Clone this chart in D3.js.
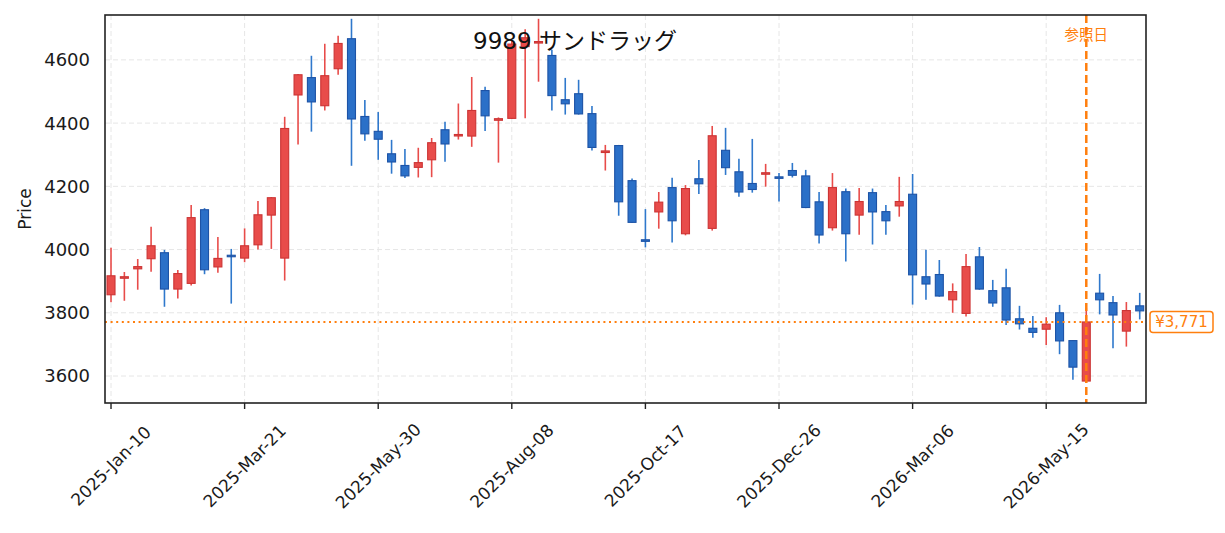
<!DOCTYPE html>
<html>
  <head>
    <meta charset="utf-8" />
    <script src="https://d3js.org/d3.v7.min.js"></script>
    <style>
        body { margin: 0; background: #fff; }
        .tick-label { font-family: "DejaVu Sans", sans-serif; font-size: 17px; fill: #1a1a1a; }
    </style>
  </head>
  <body>
    <svg id="chart" width="1225" height="533"></svg>
    <script>
        // weekly candles (Friday dates)
        var dates = [
            "2025-01-10","2025-01-17","2025-01-24","2025-01-31","2025-02-07","2025-02-14","2025-02-21","2025-02-28",
            "2025-03-07","2025-03-14","2025-03-21","2025-03-28","2025-04-04","2025-04-11","2025-04-18","2025-04-25",
            "2025-05-02","2025-05-09","2025-05-16","2025-05-23","2025-05-30","2025-06-06","2025-06-13","2025-06-20",
            "2025-06-27","2025-07-04","2025-07-11","2025-07-18","2025-07-25","2025-08-01","2025-08-08","2025-08-15",
            "2025-08-22","2025-08-29","2025-09-05","2025-09-12","2025-09-19","2025-09-26","2025-10-03","2025-10-10",
            "2025-10-17","2025-10-24","2025-10-31","2025-11-07","2025-11-14","2025-11-21","2025-11-28","2025-12-05",
            "2025-12-12","2025-12-19","2025-12-26","2026-01-02","2026-01-09","2026-01-16","2026-01-23","2026-01-30",
            "2026-02-06","2026-02-13","2026-02-20","2026-02-27","2026-03-06","2026-03-13","2026-03-20","2026-03-27",
            "2026-04-03","2026-04-10","2026-04-17","2026-04-24","2026-05-01","2026-05-08","2026-05-15","2026-05-22",
            "2026-05-29","2026-06-05","2026-06-12","2026-06-19","2026-06-26","2026-07-03"
        ];

        var open = [3857,3910,3939,3971,3990,3875,3893,4126,3945,3982,
                    3973,4015,4109,3973,4489,4544,4455,4572,4667,4421,
                    4374,4303,4266,4260,4284,4379,4360,4359,4503,4409,
                    4415,4642,4654,4614,4474,4493,4430,4307,4329,4218,
                    4031,4119,4196,4050,4224,4067,4314,4246,4209,4239,
                    4230,4250,4233,4151,4069,4183,4109,4180,4120,4138,
                    4175,3914,3921,3841,3798,3977,3870,3879,3781,3751,
                    3748,3800,3712,3584,3862,3832,3742,3822];
        var high = [4006,3929,3970,4072,3999,3935,4141,4131,4040,4002,
                    4067,4154,4166,4420,4555,4613,4651,4676,4730,4473,
                    4435,4347,4318,4322,4353,4404,4462,4546,4515,4418,
                    4662,4697,4730,4632,4543,4537,4454,4331,4331,4225,
                    4128,4182,4227,4204,4283,4391,4385,4287,4350,4271,
                    4242,4274,4252,4182,4242,4193,4195,4193,4141,4230,
                    4239,3999,3967,3893,3986,4008,3904,3939,3822,3790,
                    3786,3825,3713,3815,3923,3853,3834,3863];
        var low  = [3833,3838,3873,3930,3819,3845,3886,3922,3927,3829,
                    3960,4000,4002,3902,4332,4373,4440,4553,4265,4344,
                    4284,4240,4226,4228,4229,4278,4348,4325,4375,4275,
                    4413,4415,4531,4440,4427,4427,4313,4250,4107,4085,
                    4007,4066,4022,4045,4176,4060,4236,4167,4180,4199,
                    4152,4228,4131,4019,4060,3962,4047,4016,4047,4104,
                    3826,3841,3851,3800,3788,3873,3819,3761,3747,3721,
                    3698,3669,3588,3578,3795,3688,3693,3779];
        var close = [3917,3914,3946,4012,3875,3924,4101,3936,3972,3978,
                     4012,4110,4164,4383,4553,4467,4550,4652,4413,4366,
                     4349,4277,4233,4275,4338,4334,4364,4440,4423,4414,
                     4650,4670,4658,4487,4461,4429,4323,4312,4151,4086,
                     4026,4150,4091,4193,4208,4360,4259,4182,4190,4243,
                     4226,4235,4133,4046,4196,4050,4152,4119,4091,4152,
                     3920,3891,3853,3867,3946,3875,3831,3777,3765,3738,
                     3764,3711,3628,3771,3841,3793,3807,3806];

        var xTickIdx = [0,10,20,30,40,50,60,70];
        var xTickLabels = ["2025-Jan-10","2025-Mar-21","2025-May-30","2025-Aug-08",
                           "2025-Oct-17","2025-Dec-26","2026-Mar-06","2026-May-15"];
        var yTicks = [3600,3800,4000,4200,4400,4600];

        var refIdx = 73;
        var refPrice = 3771;
        var title = "9989 サンドラッグ";

        var candles = dates.map(function(d, i) {
            return { date: d, i: i, o: open[i], h: high[i], l: low[i], c: close[i] };
        });

        var pLeft = 105, pRight = 1146, pTop = 15, pBottom = 403;
        var svg = d3.select("#chart");

        var x = d3.scaleLinear().domain([-0.45, 77.47]).range([pLeft, pRight]);
        var y = d3.scaleLinear().domain([3514.6, 4742]).range([pBottom, pTop]);

        var upFill = "#e84c4a", upEdge = "#cc3434";
        var dnFill = "#2b70c8", dnEdge = "#1d53a6";
        var orange = "#ff7f0e";

        // grid
        svg.append("g").selectAll("line").data(yTicks).enter().append("line")
            .attr("x1", pLeft).attr("x2", pRight)
            .attr("y1", function(d){ return y(d); }).attr("y2", function(d){ return y(d); })
            .attr("stroke", "#e6e6e6").attr("stroke-width", 1).attr("stroke-dasharray", "5,3");
        svg.append("g").selectAll("line").data(xTickIdx).enter().append("line")
            .attr("x1", function(d){ return x(d); }).attr("x2", function(d){ return x(d); })
            .attr("y1", pTop).attr("y2", pBottom)
            .attr("stroke", "#e6e6e6").attr("stroke-width", 1).attr("stroke-dasharray", "5,3");

        // candles
        var g = svg.append("g");
        var bw = 8;

        g.selectAll(".wick").data(candles).enter().append("line")
            .attr("class", "wick")
            .attr("x1", function(d){ return x(d.i); }).attr("x2", function(d){ return x(d.i); })
            .attr("y1", function(d){ return y(d.h); }).attr("y2", function(d){ return y(d.l); })
            .attr("stroke", function(d){ return d.c >= d.o ? upFill : "#2f78cc"; })
            .attr("stroke-width", 1.6);

        g.selectAll(".body").data(candles).enter().append("rect")
            .attr("class", "body")
            .attr("x", function(d){ return x(d.i) - bw / 2; })
            .attr("width", bw)
            .attr("y", function(d){ return y(Math.max(d.o, d.c)); })
            .attr("height", function(d){ return Math.max(1.5, Math.abs(y(d.o) - y(d.c))); })
            .attr("fill", function(d){ return d.c >= d.o ? upFill : dnFill; })
            .attr("stroke", function(d){ return d.c >= d.o ? upEdge : dnEdge; })
            .attr("stroke-width", 1.1);

        // reference price / date
        svg.append("line")
            .attr("x1", pLeft).attr("x2", pRight)
            .attr("y1", y(refPrice)).attr("y2", y(refPrice))
            .attr("stroke", orange).attr("stroke-width", 2).attr("stroke-dasharray", "2,3.6");
        svg.append("line")
            .attr("x1", x(refIdx)).attr("x2", x(refIdx))
            .attr("y1", pTop).attr("y2", pBottom)
            .attr("stroke", orange).attr("stroke-width", 2.5).attr("stroke-dasharray", "8,4");
        svg.append("text")
            .attr("x", x(refIdx)).attr("y", 40)
            .attr("text-anchor", "middle")
            .style("font-family", "'Noto Sans CJK JP', sans-serif").style("font-size", "14.5px")
            .attr("fill", orange)
            .text("参照日");

        var lbl = svg.append("g").attr("transform", "translate(1150," + y(refPrice) + ")");
        lbl.append("rect")
            .attr("x", 0).attr("y", -10.5).attr("width", 63).attr("height", 21)
            .attr("rx", 3).attr("fill", "#fff").attr("stroke", orange).attr("stroke-width", 1.5);
        lbl.append("text")
            .attr("x", 31.5).attr("y", 5.5)
            .attr("text-anchor", "middle")
            .style("font-family", "'DejaVu Sans', sans-serif").style("font-size", "15px")
            .attr("fill", orange)
            .text("¥" + d3.format(",")(refPrice));

        // frame
        svg.append("rect")
            .attr("x", pLeft).attr("y", pTop).attr("width", pRight - pLeft).attr("height", pBottom - pTop)
            .attr("fill", "none").attr("stroke", "#222").attr("stroke-width", 1.6);

        // x axis ticks + labels
        var xa = svg.append("g");
        xa.selectAll("line").data(xTickIdx).enter().append("line")
            .attr("x1", function(d){ return x(d); }).attr("x2", function(d){ return x(d); })
            .attr("y1", pBottom).attr("y2", pBottom + 6)
            .attr("stroke", "#222").attr("stroke-width", 1.4);
        xa.selectAll("text").data(xTickIdx).enter().append("text")
            .attr("class", "tick-label")
            .attr("transform", function(d){ return "translate(" + x(d) + ",466) rotate(-45)"; })
            .attr("text-anchor", "middle")
            .attr("dy", "0.35em")
            .text(function(d, i){ return xTickLabels[i]; });

        // y axis labels
        svg.append("g").selectAll("text").data(yTicks).enter().append("text")
            .attr("class", "tick-label")
            .attr("x", 90)
            .attr("y", function(d){ return y(d); })
            .attr("dy", "0.36em")
            .attr("text-anchor", "end")
            .style("font-size", "18px")
            .text(function(d){ return d; });

        svg.append("text")
            .attr("class", "tick-label")
            .attr("transform", "translate(31," + ((pTop + pBottom) / 2) + ") rotate(-90)")
            .attr("text-anchor", "middle")
            .text("Price");

        // title
        svg.append("text")
            .attr("x", 575).attr("y", 49)
            .attr("text-anchor", "middle")
            .style("font-family", "'DejaVu Sans', 'Noto Sans CJK JP', sans-serif")
            .style("font-size", "23px")
            .attr("fill", "#111")
            .text(title);
    </script>
  </body>
</html>
